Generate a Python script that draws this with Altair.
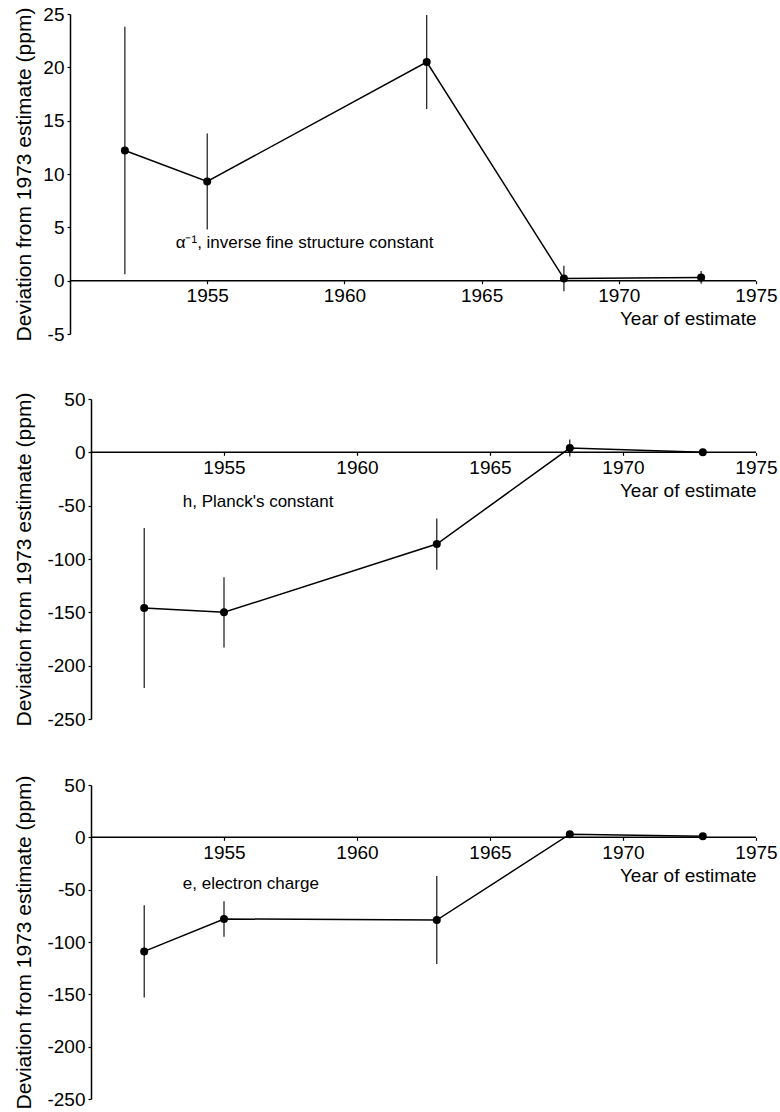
import altair as alt
import pandas as pd

years = [1952, 1955, 1963, 1968, 1973]

alpha_dev = [12.2, 9.3, 20.5, 0.2, 0.3]
alpha_err = [11.6, 4.5, 4.4, 1.2, 0.6]

h_dev = [-146, -150, -86, 4, 0]
h_err = [75, 33, 24, 8, 2]

e_dev = [-109, -78, -79, 3, 1]
e_err = [44, 17, 42, 2, 1]

panel_labels = ["\u03b1\u207b\u00b9, inverse fine structure constant",
                "h, Planck's constant",
                "e, electron charge"]
label_x = [1953.85, 1953.45, 1953.45]
label_y = [3.5, -47, -45]

x_start, x_end = 1950, 1975
x_ticks = [1955, 1960, 1965, 1970, 1975]
y_ticks_alpha = [-5, 0, 5, 10, 15, 20, 25]
y_ticks_he = [-250, -200, -150, -100, -50, 0, 50]

FONT = "Liberation Sans"
PANEL_W = 686


def panel(dev, err, label, lx, ly, ydom, yticks, height, inset, ytitle_pad):
    df = pd.DataFrame({
        "year": years,
        "dev": dev,
        "lo": [d - e for d, e in zip(dev, err)],
        "hi": [d + e for d, e in zip(dev, err)],
    })
    # the y axis sits `inset` px inside the view; the x scale puts 1950 there
    x0 = x_start - inset * (x_end - x_start) / (PANEL_W - inset)
    x_off = -height * (0 - ydom[0]) / (ydom[1] - ydom[0])
    xs = alt.Scale(domain=[x0, x_end], nice=False, zero=False)
    ys = alt.Scale(domain=ydom, nice=False, zero=False)
    xaxis = alt.Axis(values=x_ticks, format="d", offset=x_off, domain=False,
                     title="Year of estimate", titleAnchor="end",
                     grid=False, tickSize=3, labelPadding=3,
                     labelFontSize=19, titleFontSize=19,
                     titleFontWeight="normal", titlePadding=4,
                     labelFlush=False, labelFont=FONT, titleFont=FONT,
                     tickColor="black", labelColor="black", titleColor="black",
                     tickWidth=1.2)
    yaxis = alt.Axis(values=yticks, title="Deviation from 1973 estimate (ppm)",
                     labelExpr="'' + datum.value", offset=-inset,
                     grid=False, tickSize=3, labelPadding=3,
                     labelFontSize=19, titleFontSize=21,
                     titleFontWeight="normal", titlePadding=ytitle_pad,
                     labelFlush=False, labelFont=FONT, titleFont=FONT,
                     domainColor="black", tickColor="black",
                     labelColor="black", titleColor="black",
                     domainWidth=1.5, tickWidth=1.2)
    base = alt.Chart(df)
    line = base.mark_line(color="black", strokeWidth=1.5).encode(
        x=alt.X("year:Q", scale=xs, axis=xaxis),
        y=alt.Y("dev:Q", scale=ys, axis=yaxis),
    )
    zero = alt.Chart(pd.DataFrame({"a": [x_start], "b": [x_end], "z": [0]})).mark_rule(
        color="black", strokeWidth=1.5
    ).encode(x="a:Q", x2="b:Q", y="z:Q")
    bars = base.mark_rule(color="black", strokeWidth=1.1).encode(
        x="year:Q", y="lo:Q", y2="hi:Q"
    )
    pts = base.mark_circle(color="black", size=64, opacity=1).encode(
        x="year:Q", y="dev:Q"
    )
    txt = alt.Chart(pd.DataFrame({"x": [lx], "y": [ly], "t": [label]})).mark_text(
        align="left", baseline="middle", font=FONT, fontSize=17, color="black"
    ).encode(x="x:Q", y="y:Q", text="t:N")
    return alt.layer(line, zero, bars, pts, txt).properties(width=PANEL_W, height=height)


p1 = panel(alpha_dev, alpha_err, panel_labels[0], label_x[0], label_y[0],
           [-5, 25], y_ticks_alpha, 320, 0, 8)
p2 = panel(h_dev, h_err, panel_labels[1], label_x[1], label_y[1],
           [-250, 50], y_ticks_he, 320, 21, 12)
p3 = panel(e_dev, e_err, panel_labels[2], label_x[2], label_y[2],
           [-250, 50], y_ticks_he, 314, 21, 12)

chart = alt.vconcat(p1, p2, p3, spacing=46).configure(
    padding={"left": 13, "top": 5, "right": 2, "bottom": 3},
    background="white",
).configure_view(strokeWidth=0, stroke="transparent")

chart.save("out.html", embed_options={"renderer": "svg", "actions": False})
